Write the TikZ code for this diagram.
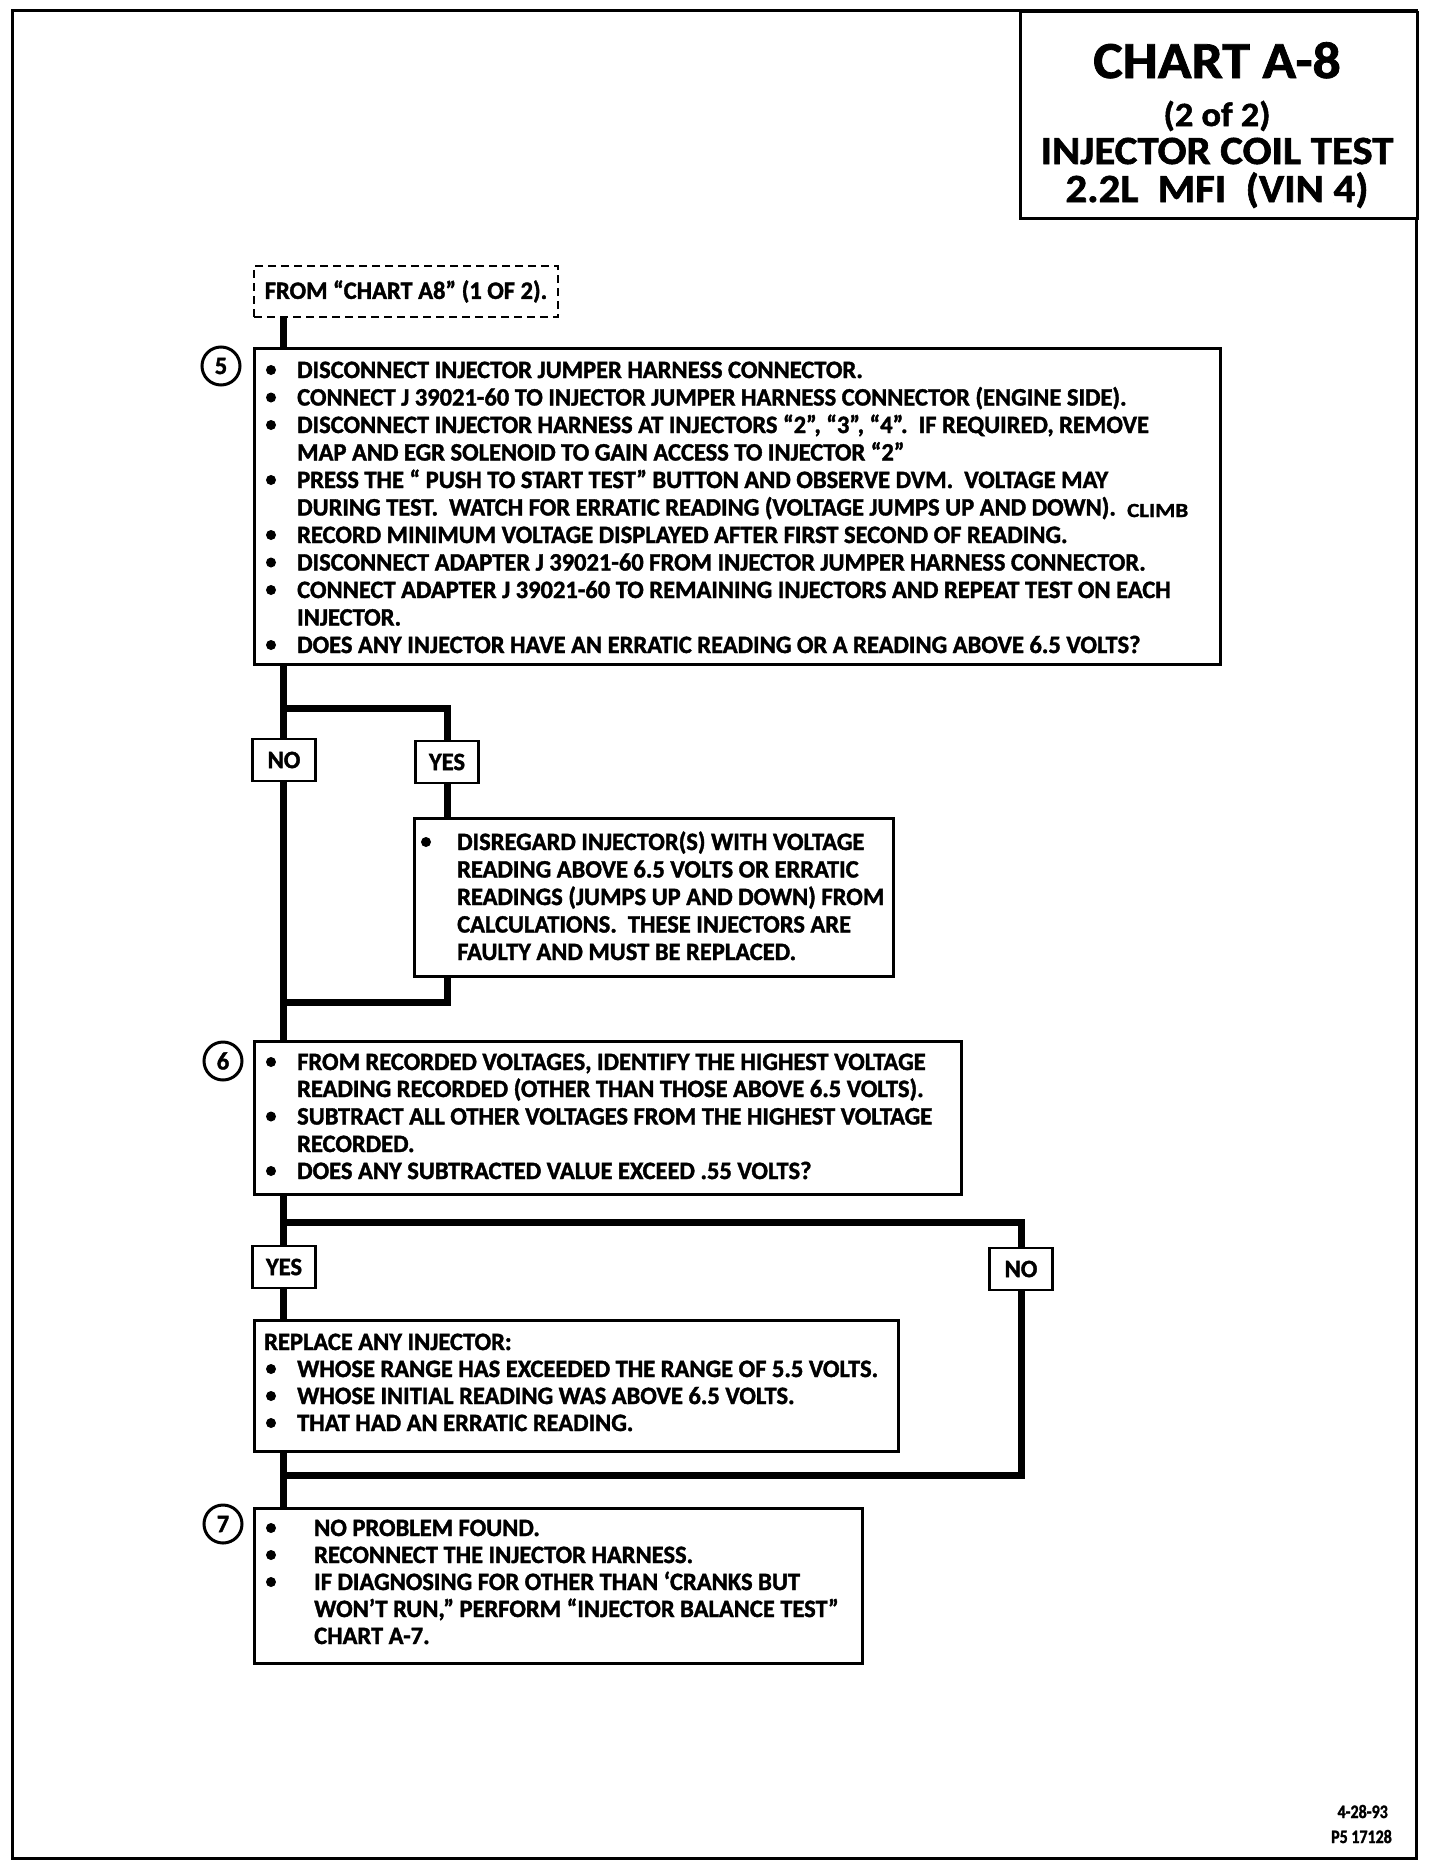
\documentclass[tikz,border=0pt]{standalone}
\usepackage{fontspec}
\setmainfont{Carlito}[FakeStretch=0.98, BoldFeatures={FakeBold=1.5}]
\newfontfamily\ttlfont{Carlito}[FakeStretch=1.07, BoldFeatures={FakeBold=1.5}]
\newfontfamily\climbfont{Carlito}[FakeStretch=1.15, BoldFeatures={FakeBold=1.5}]
\newfontfamily\footfont{Carlito}[FakeStretch=0.84, BoldFeatures={FakeBold=1.5}]
\usetikzlibrary{backgrounds}
\tikzset{
 frame/.style={line width=3pt},
 box/.style={draw, line width=2.5pt, fill=white, inner sep=0pt, anchor=north west},
 dbox/.style={draw, line width=2pt, dash pattern=on 8pt off 5pt, fill=white, inner sep=0pt, anchor=north west, font=\bfseries\fontsize{25}{25}\selectfont},
 conn/.style={line width=7pt, line join=miter},
 lbl/.style={draw, line width=2.5pt, fill=white, inner sep=0pt, minimum width=63pt, minimum height=42pt, font=\bfseries\fontsize{25}{25}\selectfont},
 stepnum/.style={draw, circle, line width=3pt, inner sep=0pt, minimum size=38pt, font=\bfseries\fontsize{25}{25}\selectfont},
 txt/.style={anchor=base west, inner sep=0pt, font=\bfseries\fontsize{25}{25}\selectfont},
 ttl/.style={anchor=base, inner sep=0pt},
 foot/.style={anchor=base east, inner sep=0pt, font=\footfont\bfseries\fontsize{19}{19}\selectfont},
}
\newcommand\bul[2]{\fill (#1,#2) circle (5pt);}
\newcommand\txtline[4]{\node[txt] (#1) at (#2,#3) {#4};}
\begin{document}
\begin{tikzpicture}[x=1pt,y=-1pt]
\useasboundingbox (0,0) rectangle (1440,1868);
\begin{scope}[on background layer]
\fill[white] (0,0) rectangle (1440,1868);
\end{scope}
\draw[frame] (12,11) rectangle (1416,1858);
% title
\node[box, minimum width=397pt, minimum height=206pt] (title) at (1019,11) {};
\node[ttl, text depth=2pt, font=\ttlfont\bfseries\fontsize{52}{52}\selectfont] (t1) at (1217,78) {CHART A-8};
\node[ttl, text height=22pt, text depth=6pt, font=\ttlfont\bfseries\fontsize{34}{34}\selectfont] (t2) at (1217,126) {(2 of 2)};
\node[ttl, text height=26pt, text depth=2pt, font=\ttlfont\bfseries\fontsize{40}{40}\selectfont] (t3) at (1217,164) {INJECTOR COIL TEST};
\node[ttl, text height=26pt, text depth=7pt, font=\ttlfont\bfseries\fontsize{40}{40}\selectfont] (t4) at (1217,202) {2.2L\ \ MFI\ \ (VIN 4)};
% start
\node[dbox, minimum width=304pt, minimum height=51pt] (from) at (253,265) {FROM ``CHART A8'' (1 OF 2).};
% box 5
\node[box, minimum width=966pt, minimum height=316pt] (b5) at (253,347) {};
\node[stepnum] (s5) at (221,366) {5};
\bul{271}{370}\txtline{a1}{297}{378}{DISCONNECT INJECTOR JUMPER HARNESS CONNECTOR.}
\bul{271}{397.5}\txtline{a2}{297}{405.5}{CONNECT J 39021-60 TO INJECTOR JUMPER HARNESS CONNECTOR (ENGINE SIDE).}
\bul{271}{425}\txtline{a3}{297}{433}{DISCONNECT INJECTOR HARNESS AT INJECTORS ``2'', ``3'', ``4''.\ \ IF REQUIRED, REMOVE}
\txtline{a4}{297}{460.5}{MAP AND EGR SOLENOID TO GAIN ACCESS TO INJECTOR ``2''}
\bul{271}{480}\txtline{a5}{297}{488}{PRESS THE `` PUSH TO START TEST'' BUTTON AND OBSERVE DVM.\ \ VOLTAGE MAY}
\txtline{a6}{297}{515.5}{DURING TEST.\ \ WATCH FOR ERRATIC READING (VOLTAGE JUMPS UP AND DOWN).}
\node[txt, font=\climbfont\bfseries\fontsize{20}{20}\selectfont] (climb) at (1127,517) {CLIMB};
\bul{271}{535}\txtline{a7}{297}{543}{RECORD MINIMUM VOLTAGE DISPLAYED AFTER FIRST SECOND OF READING.}
\bul{271}{562.5}\txtline{a8}{297}{570.5}{DISCONNECT ADAPTER J 39021-60 FROM INJECTOR JUMPER HARNESS CONNECTOR.}
\bul{271}{590}\txtline{a9}{297}{598}{CONNECT ADAPTER J 39021-60 TO REMAINING INJECTORS AND REPEAT TEST ON EACH}
\txtline{a10}{297}{625.5}{INJECTOR.}
\bul{271}{645}\txtline{a11}{297}{653}{DOES ANY INJECTOR HAVE AN ERRATIC READING OR A READING ABOVE 6.5 VOLTS?}
% labels 1
\node[lbl] (no1) at (284,760) {NO};
\node[lbl] (yes1) at (447,762) {YES};
% disregard
\node[box, minimum width=479pt, minimum height=158pt] (dis) at (413,817) {};
\bul{426}{842}\txtline{d1}{457}{850}{DISREGARD INJECTOR(S) WITH VOLTAGE}
\txtline{d2}{457}{877.5}{READING ABOVE 6.5 VOLTS OR ERRATIC}
\txtline{d3}{457}{905}{READINGS (JUMPS UP AND DOWN) FROM}
\txtline{d4}{457}{932.5}{CALCULATIONS.\ \ THESE INJECTORS ARE}
\txtline{d5}{457}{960}{FAULTY AND MUST BE REPLACED.}
% box 6
\node[box, minimum width=707pt, minimum height=153pt] (b6) at (253,1040) {};
\node[stepnum] (s6) at (223,1061) {6};
\bul{271}{1062}\txtline{e1}{297}{1070}{FROM RECORDED VOLTAGES, IDENTIFY THE HIGHEST VOLTAGE}
\txtline{e2}{297}{1097}{READING RECORDED (OTHER THAN THOSE ABOVE 6.5 VOLTS).}
\bul{271}{1116.5}\txtline{e3}{297}{1124.5}{SUBTRACT ALL OTHER VOLTAGES FROM THE HIGHEST VOLTAGE}
\txtline{e4}{297}{1152}{RECORDED.}
\bul{271}{1171}\txtline{e5}{297}{1179}{DOES ANY SUBTRACTED VALUE EXCEED .55 VOLTS?}
% labels 2
\node[lbl] (yes2) at (284,1267) {YES};
\node[lbl] (no2) at (1021,1269) {NO};
% replace
\node[box, minimum width=644pt, minimum height=131pt] (rep) at (253,1319) {};
\txtline{r0}{264}{1350}{REPLACE ANY INJECTOR:}
\bul{271}{1369}\txtline{r1}{297}{1377}{WHOSE RANGE HAS EXCEEDED THE RANGE OF 5.5 VOLTS.}
\bul{271}{1396}\txtline{r2}{297}{1404}{WHOSE INITIAL READING WAS ABOVE 6.5 VOLTS.}
\bul{271}{1423}\txtline{r3}{297}{1431}{THAT HAD AN ERRATIC READING.}
% box 7
\node[box, minimum width=608pt, minimum height=155pt] (b7) at (253,1507) {};
\node[stepnum] (s7) at (223,1524) {7};
\bul{271}{1528}\txtline{f1}{314}{1536}{NO PROBLEM FOUND.}
\bul{271}{1555}\txtline{f2}{314}{1563}{RECONNECT THE INJECTOR HARNESS.}
\bul{271}{1582}\txtline{f3}{314}{1590}{IF DIAGNOSING FOR OTHER THAN `CRANKS BUT}
\txtline{f4}{314}{1617}{WON'T RUN,'' PERFORM ``INJECTOR BALANCE TEST''}
\txtline{f5}{314}{1644}{CHART A-7.}
% footer
\node[foot] (ft1) at (1388,1818) {4-28-93};
\node[foot] (ft2) at (1392,1843) {P5 17128};
% connectors
\coordinate (tx) at (283,0);
\coordinate (j1) at (283,708);
\coordinate (j2) at (283,1002);
\coordinate (j3) at (283,1222);
\coordinate (j4) at (283,1475);
\begin{scope}[on background layer]
\draw[conn] (from.south -| tx) -- (b7.north -| tx);
\draw[conn] (j1) -| (j2 -| yes1) -- (j2);
\draw[conn] (j3) -| (j4 -| no2) -- (j4);
\end{scope}
\end{tikzpicture}
\end{document}
